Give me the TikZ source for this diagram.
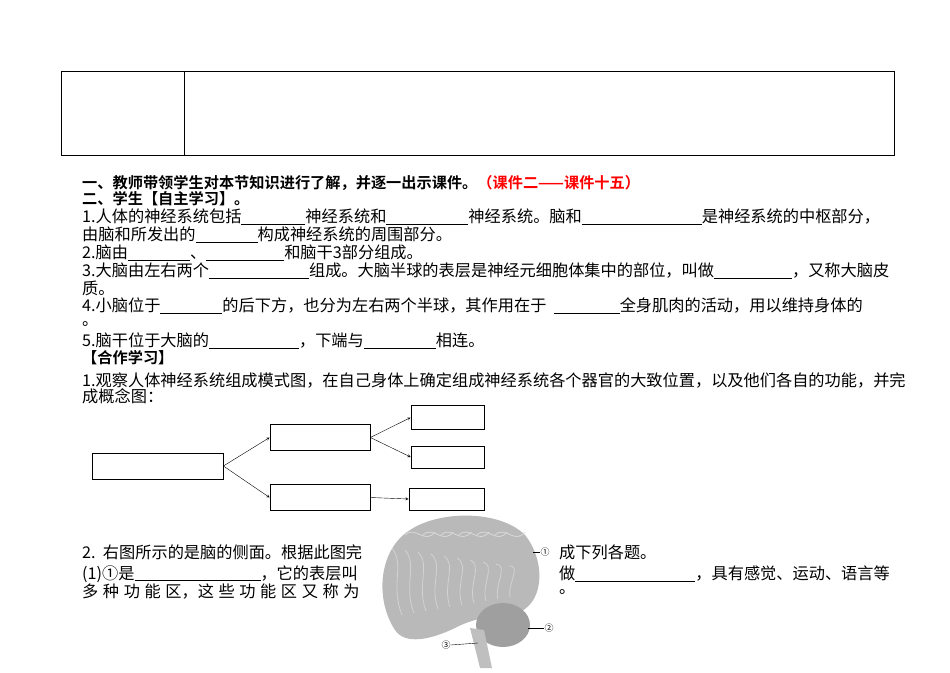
\documentclass[tikz,border=0pt]{standalone}
\usepackage{fontspec}
\setmainfont{Liberation Serif}
\newfontfamily\cjk{Noto Sans CJK SC}
\newfontfamily\cjkb{Noto Sans CJK SC Bold}
\newcommand{\bl}[1]{\underline{\makebox[#1pt]{}}}
\begin{document}
\begin{tikzpicture}[x=1pt,y=-1pt,
  txt/.style={anchor=west,inner sep=0pt,font=\cjk\fontsize{16.2}{16}\selectfont},
  hd/.style={anchor=west,inner sep=0pt,font=\cjkb\fontsize{15.2}{16}\selectfont},
  box/.style={draw,thick,minimum width=#1},
  arr/.style={-stealth,thin},
  lead/.style={thin}]
\useasboundingbox (0,0) rectangle (950,672);
\draw (61,71) rectangle (894,155) (184,71) -- (184,155);
\node[hd] (h1) at (82,183) {一、教师带领学生对本节知识进行了解，并逐一出示课件。\textcolor{red}{（课件二——课件十五）}};
\node[hd] (h2) at (82,199) {二、学生【自主学习】。};
\node[txt] (l1) at (82,217) {1.人体的神经系统包括\bl{64}神经系统和\bl{82}神经系统。脑和\bl{120}是神经系统的中枢部分，};
\node[txt] (l1b) at (82,235) {由脑和所发出的\bl{62}构成神经系统的周围部分。};
\node[txt] (l2) at (82,253) {2.脑由\bl{62}、\bl{78}和脑干3部分组成。};
\node[txt] (l3) at (82,271) {3.大脑由左右两个\bl{100}组成。大脑半球的表层是神经元细胞体集中的部位，叫做\bl{78}，又称大脑皮};
\node[txt] (l3b) at (82,288) {质。};
\node[txt] (l4) at (82,306) {4.小脑位于\bl{62}的后下方，也分为左右两个半球，其作用在于\ \ \bl{66}全身肌肉的活动，用以维持身体的};
\node[txt] (l4b) at (82,324) {。};
\node[txt] (l5) at (82,341) {5.脑干位于大脑的\bl{90}，下端与\bl{72}相连。};
\node[hd] (h3) at (82,358) {【合作学习】};
\node[txt] (c1) at (82,380) {1.观察人体神经系统组成模式图，在自己身体上确定组成神经系统各个器官的大致位置，以及他们各自的功能，并完};
\node[txt] (c1b) at (82,396) {成概念图：};
% concept map
\node[box=131pt,minimum height=26pt] (a) at (157.5,466) {};
\node[box=100pt,minimum height=26pt] (b) at (320,437.5) {};
\node[box=100pt,minimum height=26pt] (c) at (320,497.5) {};
\node[box=73pt,minimum height=24pt] (d) at (447.5,417.5) {};
\node[box=73pt,minimum height=22pt] (e) at (447.5,457) {};
\node[box=75pt,minimum height=22pt] (f) at (446.5,499) {};
\draw[arr] (a.east) -- (b.west);
\draw[arr] (a.east) -- (c.west);
\draw[arr] (b.east) -- (d.west);
\draw[arr] (b.east) -- (e.west);
\draw[arr] (c.east) -- (f.west);
% question 2
\node[txt] (q2) at (82,552) {2.\ \ 右图所示的是脑的侧面。根据此图完};
\node[txt] (q2b) at (82,574) {(1)①是\bl{126}，它的表层叫};
\node[txt] (q2c) at (82,592) {多\hspace{4.6pt}种\hspace{4.6pt}功\hspace{4.6pt}能\hspace{4.6pt}区，这\hspace{4.6pt}些\hspace{4.6pt}功\hspace{4.6pt}能\hspace{4.6pt}区\hspace{4.6pt}又\hspace{4.6pt}称\hspace{4.6pt}为};
\node[txt] (r1) at (559,552) {成下列各题。};
\node[txt] (r2) at (559,574) {做\bl{120}，具有感觉、运动、语言等};
\node[txt] (r3) at (559,592) {。};
% brain drawing
\fill[gray!55] (395,630) .. controls (375,600) and (378,550) .. (410,530)
  .. controls (440,510) and (500,510) .. (525,535)
  .. controls (545,560) and (545,600) .. (520,612)
  .. controls (490,615) and (470,620) .. (455,628)
  .. controls (430,640) and (405,645) .. (395,630);
\fill[gray!75] (503,625) ellipse (27 and 22);
\fill[gray!50] (470,628) -- (484,630) -- (492,668) -- (480,668) -- cycle;
\foreach \i in {0,...,9}{
  \draw[gray!35,thick] (392+\i*13,548+\i*2) .. controls (405+\i*13,565) and (390+\i*13,585) .. (402+\i*12,615-\i*2);}
\foreach \i in {0,...,5}{
  \draw[gray!30,thick] (405+\i*18,535) .. controls (415+\i*18,525) and (425+\i*18,545) .. (435+\i*18,532);}
\coordinate (p1) at (533,552);
\coordinate (p2) at (528,628);
\coordinate (p3) at (478,643);
\node[inner sep=0pt,font=\cjk\fontsize{9}{9}\selectfont] (n1) at (545,552) {①};
\node[inner sep=0pt,font=\cjk\fontsize{9}{9}\selectfont] (n2) at (549,628) {②};
\node[inner sep=0pt,font=\cjk\fontsize{9}{9}\selectfont] (n3) at (446,645) {③};
\draw[lead] (p1) -- (n1.west);
\draw[lead] (p2) -- (n2.west);
\draw[lead] (p3) -- (n3.east);
\end{tikzpicture}
\end{document}
